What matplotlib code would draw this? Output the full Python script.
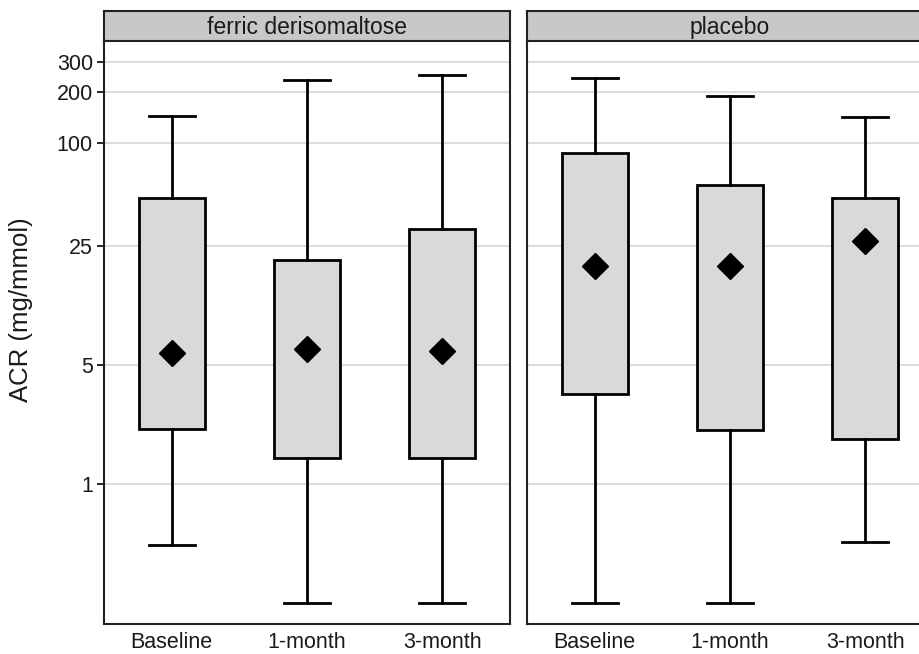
import numpy as np
import matplotlib
matplotlib.use('Agg')
import matplotlib.pyplot as plt
from matplotlib.ticker import FixedLocator, NullLocator

plt.rcParams['font.family'] = ['Liberation Sans', 'DejaVu Sans']

panels = ['ferric derisomaltose', 'placebo']
visits = ['Baseline', '1-month', '3-month']

# box plot statistics (mg/mmol)
whisk_lo = {'ferric derisomaltose': [0.44, 0.20, 0.20],
            'placebo': [0.20, 0.20, 0.46]}
q1 = {'ferric derisomaltose': [2.10, 1.42, 1.42],
      'placebo': [3.37, 2.07, 1.84]}
q3 = {'ferric derisomaltose': [47.7, 20.6, 31.4],
      'placebo': [87.6, 56.8, 47.7]}
whisk_hi = {'ferric derisomaltose': [144, 235, 251],
            'placebo': [241, 189, 142]}
diamond = {'ferric derisomaltose': [5.87, 6.2, 6.03],
           'placebo': [19.0, 19.0, 26.7]}

yticks = [1, 5, 25, 100, 200, 300]

fig = plt.figure(figsize=(9.2, 6.54), dpi=100)
W, H = 920, 654
lefts = [104, 527]
pw = 406
top, bottom = 41, 624
txt = '#1a1a1a'

for i, p in enumerate(panels):
    ax = fig.add_axes([lefts[i] / W, (H - bottom) / H, pw / W, (bottom - top) / H])
    stats = []
    for j, v in enumerate(visits):
        stats.append({'whislo': whisk_lo[p][j], 'q1': q1[p][j], 'med': q1[p][j],
                      'q3': q3[p][j], 'whishi': whisk_hi[p][j], 'label': v})
    ax.bxp(stats, positions=range(len(visits)), widths=0.49, patch_artist=True,
           showfliers=False,
           boxprops=dict(facecolor='#d9d9d9', edgecolor='black', linewidth=2),
           whiskerprops=dict(color='black', linewidth=2),
           capprops=dict(color='black', linewidth=2),
           medianprops=dict(linewidth=0),
           capwidths=0.34)
    ax.plot(range(len(visits)), diamond[p], 'D', color='black', markersize=13, zorder=5)
    ax.set_yscale('log')
    ax.set_ylim(0.151, 398)
    ax.set_xlim(-0.5, 2.5)
    ax.yaxis.set_major_locator(FixedLocator(yticks))
    ax.yaxis.set_minor_locator(NullLocator())
    ax.set_yticklabels([str(t) for t in yticks], fontsize=15.5, color=txt)
    ax.set_xticks(range(len(visits)))
    ax.set_xticklabels(visits, fontsize=15.5, color=txt)
    ax.tick_params(axis='x', length=0, pad=6)
    ax.tick_params(axis='y', length=5, width=1.2, pad=3)
    ax.grid(axis='y', color='#d6d6d6', linewidth=1.2)
    ax.set_axisbelow(True)
    for s in ax.spines.values():
        s.set_linewidth(1.5)
        s.set_color('#222222')
    if i == 0:
        ax.set_ylabel('ACR (mg/mmol)', fontsize=18.5, color=txt)
        ax.yaxis.set_label_coords(-0.175, 0.54)
    else:
        ax.tick_params(axis='y', length=0, labelleft=False)
        ax.spines['right'].set_visible(False)
    ax.spines['top'].set_visible(False)

    # panel strip
    sx = fig.add_axes([lefts[i] / W, (H - top) / H, pw / W, 30 / H])
    sx.set_facecolor('#c8c8c8')
    sx.set_xticks([])
    sx.set_yticks([])
    for s in sx.spines.values():
        s.set_linewidth(1.5)
        s.set_color('#222222')
    sx.text(0.5, 0.45, p, ha='center', va='center', fontsize=16.5, color=txt,
            transform=sx.transAxes)

fig.savefig('out.png', dpi=100)
